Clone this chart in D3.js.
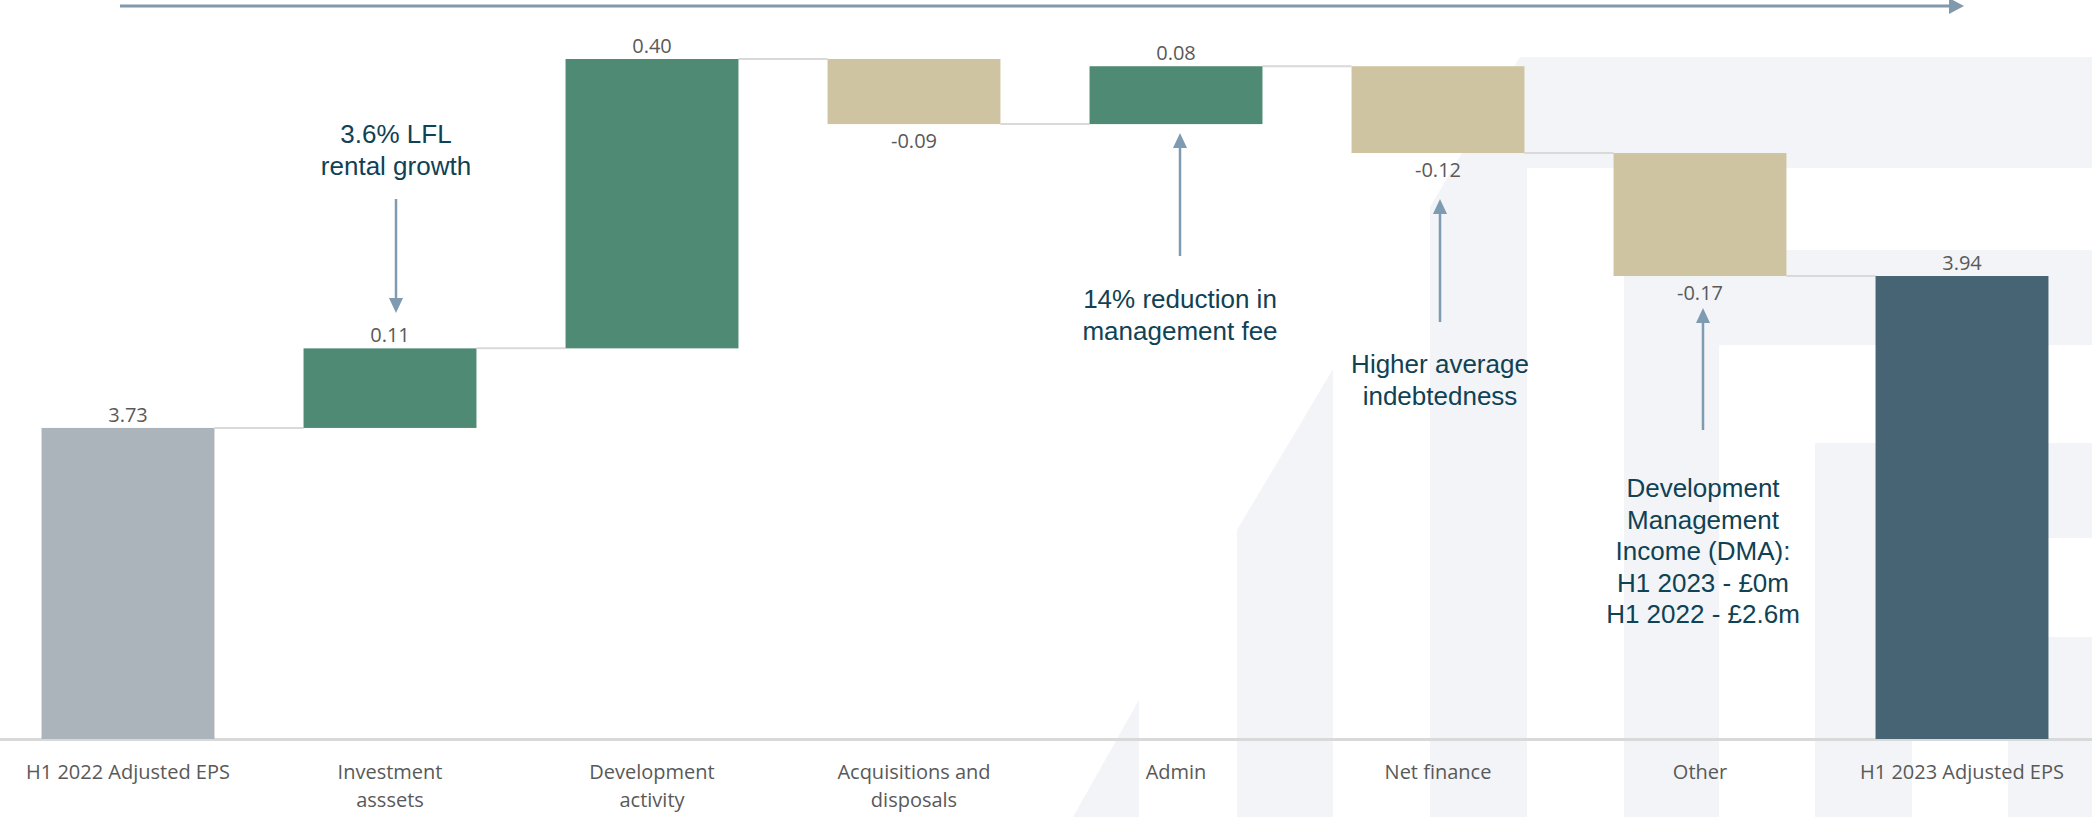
<!DOCTYPE html>
<html>
<head>
<meta charset="utf-8">
<script src="https://cdn.jsdelivr.net/npm/d3@7"></script>
<style>
  html, body { margin: 0; padding: 0; background: #ffffff; overflow: hidden; }
  svg { display: block; }
</style>
</head>
<body>
<svg id="chart" width="2092" height="817"></svg>
<script>
// ---------------- DATA ----------------
const categories = [
  "H1 2022 Adjusted EPS",
  "Investment asssets",
  "Development activity",
  "Acquisitions and disposals",
  "Admin",
  "Net finance",
  "Other",
  "H1 2023 Adjusted EPS"
];
const categoryLines = [
  ["H1 2022 Adjusted EPS"],
  ["Investment", "asssets"],
  ["Development", "activity"],
  ["Acquisitions and", "disposals"],
  ["Admin"],
  ["Net finance"],
  ["Other"],
  ["H1 2023 Adjusted EPS"]
];
const values = [3.73, 0.11, 0.40, -0.09, 0.08, -0.12, -0.17, 3.94];
const isTotal = [true, false, false, false, false, false, false, true];
const valueLabels = ["3.73", "0.11", "0.40", "-0.09", "0.08", "-0.12", "-0.17", "3.94"];
const yDomain = [3.30, 4.24];

const annotationCategory = [1, 4, 5, 6];
const annotationLines = [
  ["3.6% LFL", "rental growth"],
  ["14% reduction in", "management fee"],
  ["Higher average", "indebtedness"],
  ["Development", "Management", "Income (DMA):", "H1 2023 - £0m", "H1 2022 - £2.6m"]
];

// ---------------- LAYOUT ----------------
const W = 2092, H = 817;
const svg = d3.select("#chart");

const x = d3.scaleBand()
  .domain(categories)
  .range([-3, 2093])
  .paddingInner(0.34)
  .paddingOuter(0.17);

const y = d3.scaleLinear()
  .domain(yDomain)
  .range([739, 59]);

// waterfall computation
let running = 0;
const bars = categories.map((c, i) => {
  let start, end;
  if (isTotal[i]) { start = yDomain[0]; end = values[i]; running = values[i]; }
  else { start = running; end = running + values[i]; running = end; }
  return { cat: c, i, start, end, v: values[i], total: isTotal[i] };
});

const colTotalStart = "#abb3bb";
const colTotalEnd = "#466473";
const colUp = "#4e8a74";
const colDown = "#cfc4a2";

// ---------------- WATERMARK ----------------
const wm = svg.append("g").attr("fill", "#f2f4f7");
const wmShapes = [
  [[1520,57],[2092,57],[2092,168],[1453,168]],
  [[1453,168],[1527,168],[1527,817],[1430,817],[1430,207]],
  [[1333,369],[1333,817],[1237,817],[1237,530]],
  [[1624,250],[2092,250],[2092,345],[1719,345],[1719,817],[1624,817]],
  [[1815,443],[2092,443],[2092,538],[1912,538],[1912,817],[1815,817]],
  [[2008,637],[2092,637],[2092,817],[2008,817]],
  [[1073,817],[1139,700],[1139,817]]
];
wm.selectAll("polygon").data(wmShapes).join("polygon")
  .attr("points", d => d.map(p => p.join(",")).join(" "));

// ---------------- TOP ARROW ----------------
const topY = 6;
svg.append("line")
  .attr("x1", 120).attr("x2", 1950).attr("y1", topY).attr("y2", topY)
  .attr("stroke", "#8099ad").attr("stroke-width", 3);
svg.append("polygon")
  .attr("points", `1949,${topY-8} 1964,${topY} 1949,${topY+8}`)
  .attr("fill", "#8099ad");

// ---------------- AXIS ----------------
const axisG = svg.append("g")
  .attr("transform", `translate(0,${y(yDomain[0])})`)
  .call(d3.axisBottom(x).tickSize(0).tickSizeOuter(0).tickPadding(0));
axisG.select(".domain").attr("stroke", "#d9d9d9").attr("stroke-width", 3);
axisG.selectAll(".tick text").each(function(d, i) {
  const t = d3.select(this);
  t.text(null)
    .attr("font-family", "'Open Sans', 'Noto Sans', sans-serif")
    .attr("font-size", 20)
    .attr("fill", "#595959")
    .attr("text-anchor", "middle")
    .attr("dy", null)
    .attr("y", 40);
  categoryLines[categories.indexOf(d)].forEach((ln, k) => {
    t.append("tspan").attr("x", 0).attr("y", 40 + k * 28).text(ln);
  });
});

// ---------------- CONNECTORS ----------------
const conns = bars.slice(0, -1).map((b, i) => ({ from: b, to: bars[i + 1], level: b.end }));
svg.append("g").selectAll("line").data(conns).join("line")
  .attr("x1", d => x(d.from.cat) + x.bandwidth())
  .attr("x2", d => x(d.to.cat))
  .attr("y1", d => y(d.level))
  .attr("y2", d => y(d.level))
  .attr("stroke", "#d9d9d9")
  .attr("stroke-width", 2);

// ---------------- BARS ----------------
svg.append("g").selectAll("rect").data(bars).join("rect")
  .attr("x", d => x(d.cat))
  .attr("width", x.bandwidth())
  .attr("y", d => y(Math.max(d.start, d.end)))
  .attr("height", d => Math.abs(y(d.start) - y(d.end)))
  .attr("fill", d => d.total ? (d.i === 0 ? colTotalStart : colTotalEnd) : (d.v >= 0 ? colUp : colDown));

// ---------------- VALUE LABELS ----------------
svg.append("g").selectAll("text").data(bars).join("text")
  .attr("x", d => x(d.cat) + x.bandwidth() / 2)
  .attr("y", d => d.v >= 0 ? y(Math.max(d.start, d.end)) - 6 : y(Math.min(d.start, d.end)) + 24)
  .attr("text-anchor", "middle")
  .attr("font-family", "'Open Sans', 'Noto Sans', sans-serif")
  .attr("font-size", 20)
  .attr("fill", "#595959")
  .text((d, i) => valueLabels[i]);

// ---------------- ANNOTATIONS ----------------
const annCol = "#0f4254";
const arrowCol = "#7f9bb1";
// layout per annotation: text first baseline, arrow start (tail) and tip, direction, x offset
const annLayout = [
  { dx: 6, textY: 143, tail: 199, tip: 313 },
  { dx: 4, textY: 308, tail: 256, tip: 133 },
  { dx: 2, textY: 373, tail: 322, tip: 199 },
  { dx: 3, textY: 497, tail: 430, tip: 308 }
];
const annG = svg.append("g");
annotationCategory.forEach((ci, k) => {
  const L = annLayout[k];
  const cx = x(categories[ci]) + x.bandwidth() / 2 + L.dx;
  const t = annG.append("text")
    .attr("text-anchor", "middle")
    .attr("font-family", "'Liberation Sans', Arial, sans-serif")
    .attr("font-size", 26)
    .attr("fill", annCol);
  annotationLines[k].forEach((ln, j) => {
    t.append("tspan").attr("x", cx).attr("y", L.textY + j * 31.5).text(ln);
  });
  const dir = L.tip > L.tail ? 1 : -1;
  const headLen = 15, headHalf = 7;
  annG.append("line")
    .attr("x1", cx).attr("x2", cx)
    .attr("y1", L.tail).attr("y2", L.tip - dir * headLen)
    .attr("stroke", arrowCol).attr("stroke-width", 2.5);
  annG.append("polygon")
    .attr("points", `${cx - headHalf},${L.tip - dir * headLen} ${cx + headHalf},${L.tip - dir * headLen} ${cx},${L.tip}`)
    .attr("fill", arrowCol);
});
</script>
</body>
</html>
